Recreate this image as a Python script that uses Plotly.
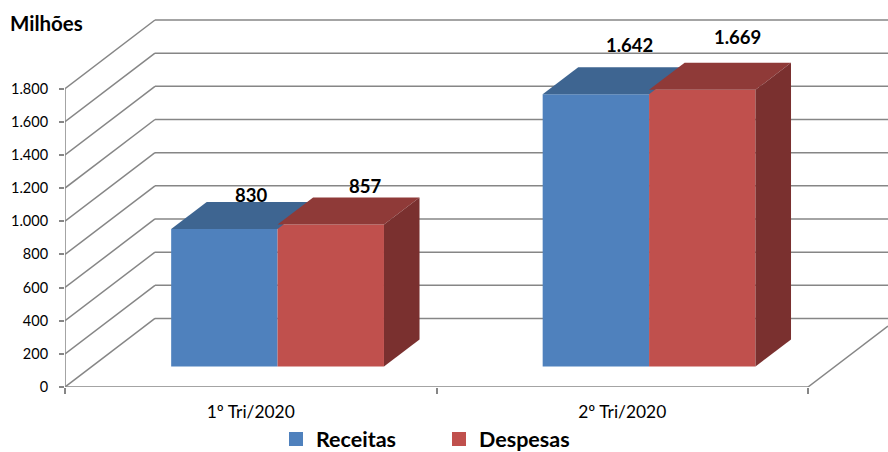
import plotly.graph_objects as go

# ---- data ----
categories = ["1º Tri/2020", "2º Tri/2020"]
receitas = [830, 1642]
despesas = [857, 1669]
tick_values = [0, 200, 400, 600, 800, 1000, 1200, 1400, 1600, 1800]
tick_labels = ["0", "200", "400", "600", "800", "1.000", "1.200", "1.400", "1.600", "1.800"]
series_names = ["Receitas", "Despesas"]
unit_label = "Milhões"
label_receitas = ["830", "1.642"]
label_despesas = ["857", "1.669"]

# ---- style / oblique projection ----
W, H = 888, 452
LEFT, BOTTOM_Y = 65, 386.7
PX_PER_CAT = 371.5
PX_PER_VAL = 298.2 / 1800
DEPTH_X = 90 / PX_PER_CAT        # full-depth shift, in category units
DEPTH_Y = 68.5 / PX_PER_VAL      # full-depth shift, in value units
D0, BAR_D = 0.298, 0.395         # bar front depth and bar thickness
BAR_W = 106.4 / PX_PER_CAT
X_MAX = (W - LEFT) / PX_PER_CAT
GRID = "#868686"
GW = 1.5
BLUE, BLUE_TOP = "#4F81BD", "#3E6591"
RED, RED_TOP, RED_SIDE = "#C0504D", "#8F3A38", "#7A302F"
FONT = "Lato"


def proj(x, v, d):
    return x + d * DEPTH_X, v + d * DEPTH_Y


fig = go.Figure()

shapes = []
for t in tick_values:
    bx, by = proj(0, t, 1)
    shapes.append(dict(type="line", x0=0, y0=t, x1=bx, y1=by, layer="below",
                       line=dict(color=GRID, width=GW)))
    shapes.append(dict(type="line", x0=bx, y0=by, x1=X_MAX, y1=by, layer="below",
                       line=dict(color=GRID, width=GW)))
n = len(categories)
fx, fy = proj(n, 0, (X_MAX - n) / DEPTH_X)
shapes += [
    dict(type="line", x0=0, y0=0, x1=0, y1=tick_values[-1], layer="below", line=dict(color=GRID, width=GW)),
    dict(type="line", x0=0, y0=0, x1=n, y1=0, layer="below", line=dict(color=GRID, width=GW)),
    dict(type="line", x0=n, y0=0, x1=fx, y1=fy, layer="below", line=dict(color=GRID, width=GW)),
]

centres = [i + 0.5 for i in range(n)]
base = D0 * DEPTH_Y
for vals, col, off, name in [(receitas, BLUE, -0.5, series_names[0]), (despesas, RED, 0.5, series_names[1])]:
    fig.add_trace(go.Bar(
        x=[c + off * BAR_W + D0 * DEPTH_X for c in centres], y=vals, base=[base] * n,
        width=BAR_W, marker=dict(color=col, line=dict(width=0)), name=name, showlegend=False,
    ))


def poly(pts, color):
    xs, ys = zip(*pts)
    fig.add_trace(go.Scatter(x=xs, y=ys, mode="lines", fill="toself", fillcolor=color,
                             line=dict(width=0, color=color), hoverinfo="skip", showlegend=False))


for c, rv, dv in zip(centres, receitas, despesas):
    for left, v, col in [(c - BAR_W, rv, BLUE_TOP), (c, dv, RED_TOP)]:
        r = left + BAR_W
        poly([proj(left, v, D0), proj(r, v, D0), proj(r, v, D0 + BAR_D), proj(left, v, D0 + BAR_D)], col)
    r = c + BAR_W
    poly([proj(r, 0, D0), proj(r, 0, D0 + BAR_D), proj(r, dv, D0 + BAR_D), proj(r, dv, D0)], RED_SIDE)

for name, col in zip(series_names, [BLUE, RED]):
    fig.add_trace(go.Scatter(x=[None], y=[None], mode="markers", name=name,
                             marker=dict(symbol="square", size=14, color=col)))

label_shift = [(-9, 7), (-1, 11), (-2, 22), (0, 26)]
annotations = []
i = 0
for c, rv, dv, rl, dl in zip(centres, receitas, despesas, label_receitas, label_despesas):
    for xc, v, txt in [(c - BAR_W / 2, rv, rl), (c + BAR_W / 2, dv, dl)]:
        ax, ay = proj(xc, v, D0 + BAR_D)
        annotations.append(dict(x=ax, y=ay, text=f"<b>{txt}</b>", showarrow=False, xshift=label_shift[i][0],
                                yshift=label_shift[i][1], font=dict(family=FONT, size=18.5, color="black")))
        i += 1

annotations.append(dict(xref="paper", yref="paper", x=-57 / (W - LEFT), y=1 - 23 / 386.7, xanchor="left",
                        yanchor="middle", text=f"<b>{unit_label}</b>", showarrow=False,
                        font=dict(family=FONT, size=20.5, color="black")))

fig.update_layout(
    width=W, height=H, barmode="overlay", paper_bgcolor="white", plot_bgcolor="white",
    margin=dict(l=LEFT, r=0, t=0, b=H - BOTTOM_Y, pad=0, autoexpand=False),
    font=dict(family=FONT, size=15, color="black"),
    shapes=shapes, annotations=annotations,
    xaxis=dict(range=[0, X_MAX], tickmode="array", tickvals=centres, ticktext=categories, ticks="",
               showgrid=False, zeroline=False, showline=False, ticklabelstandoff=13,
               minor=dict(tickmode="array", tickvals=[0, 1, 2], ticks="outside", ticklen=6, tickcolor=GRID, tickwidth=GW, showgrid=False),
               tickfont=dict(family=FONT, size=17.4, color="black")),
    yaxis=dict(range=[0, BOTTOM_Y / PX_PER_VAL], tickmode="array", tickvals=tick_values, ticktext=tick_labels,
               ticks="outside", ticklen=5, tickcolor=GRID, tickwidth=GW, showgrid=False, zeroline=False,
               showline=False, ticklabelstandoff=8, tickfont=dict(family=FONT, size=14.5, color="black")),
    legend=dict(orientation="h", x=(276 - LEFT) / (W - LEFT), xanchor="left", y=-52 / 386.7, yanchor="middle",
                font=dict(family=FONT, size=21.5, weight=700, color="black"), itemwidth=30, itemsizing="trace",
                entrywidth=118, entrywidthmode="pixels",
                traceorder="normal", bgcolor="rgba(0,0,0,0)", tracegroupgap=0),
    hovermode=False,
)

fig.write_html("out.html", config={"displayModeBar": False}, post_script="document.body.style.margin='0';")
